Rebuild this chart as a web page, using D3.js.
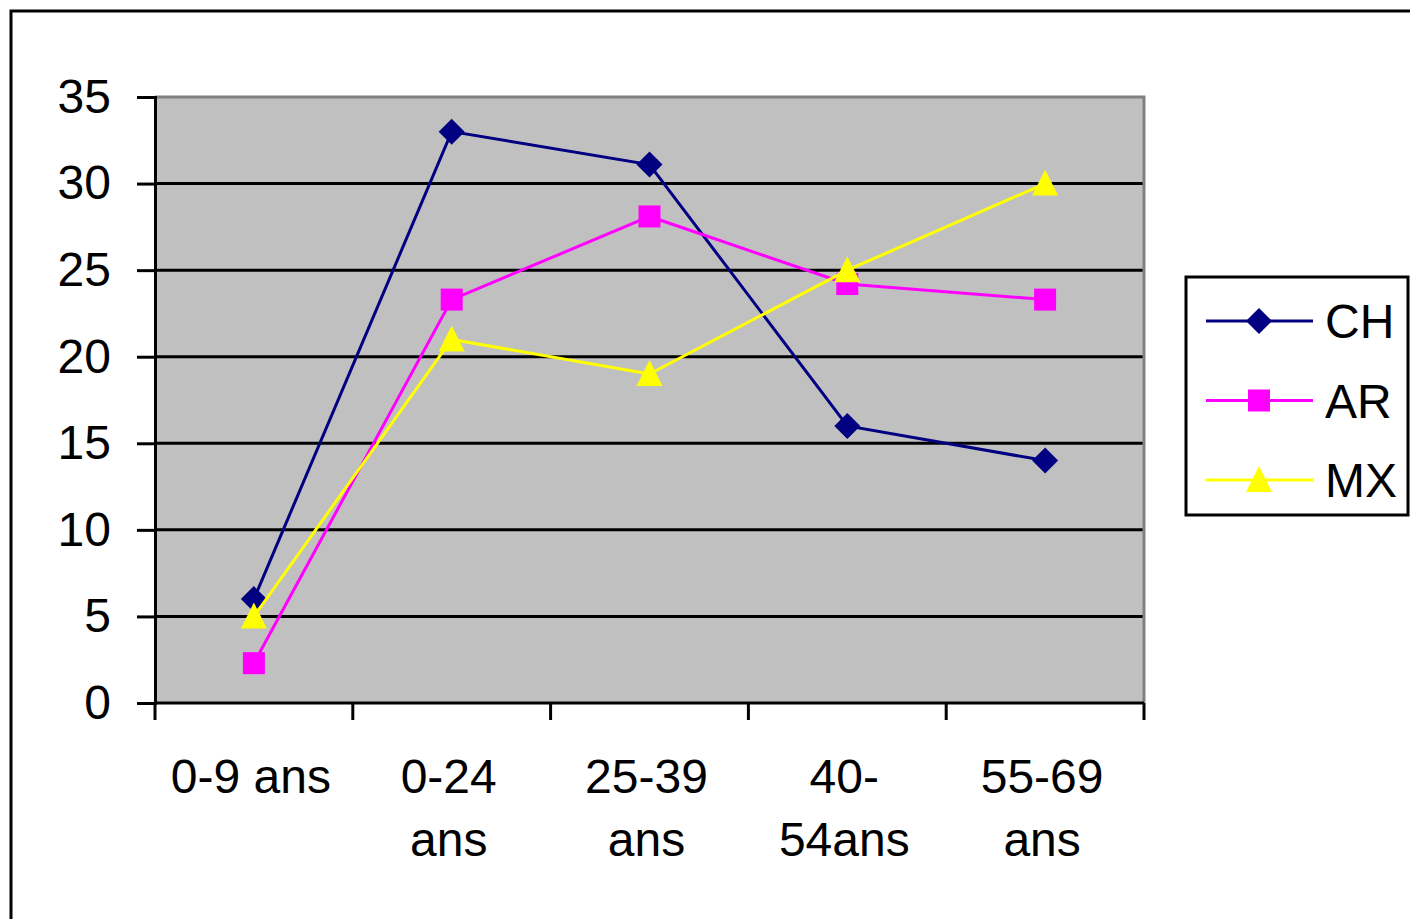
<!DOCTYPE html>
<html><head><meta charset="utf-8">
<script src="https://cdn.jsdelivr.net/npm/d3@7/dist/d3.min.js"></script>
<style>body{margin:0;background:#fff}svg{display:block}text{font-family:"Liberation Sans",Arial,sans-serif}</style>
</head><body>
<svg id="c" width="1410" height="919"></svg>
<script>
const categories = ["0-9 ans","0-24 ans","25-39 ans","40-54ans","55-69 ans"];
const categoryLines = [["0-9 ans"],["0-24","ans"],["25-39","ans"],["40-","54ans"],["55-69","ans"]];
const CH = [6, 33, 31.1, 16, 14];
const AR = [2.3, 23.3, 28.1, 24.2, 23.3];
const MX = [5, 21, 19, 25, 30];
const yTicks = [0,5,10,15,20,25,30,35];
const seriesNames = ["CH","AR","MX"];
const seriesColors = ["#000080","#FF00FF","#FFFF00"];
const seriesMarkers = ["diamond","square","triangle"];
const seriesData = [CH, AR, MX];

const svg = d3.select("#c");
svg.append("rect").attr("x",11).attr("y",11).attr("width",1420).attr("height",930)
  .attr("fill","none").attr("stroke","#000").attr("stroke-width",3);

const L=155, R=1144, T=97, B=703;
const x = d3.scaleBand().domain(categories).range([L,R]);
const y = d3.scaleLinear().domain([0,35]).range([B,T]);

svg.append("rect").attr("x",L).attr("y",T).attr("width",R-L).attr("height",B-T).attr("fill","#C0C0C0");
svg.append("g").selectAll("line").data(yTicks.filter(d=>d>0&&d<35)).join("line")
  .attr("x1",L).attr("x2",R).attr("y1",d=>y(d)).attr("y2",d=>y(d)).attr("stroke","#000").attr("stroke-width",3);
svg.append("path").attr("d",`M${L},${T}H${R}V${B}`).attr("fill","none").attr("stroke","#808080").attr("stroke-width",3);

const yAxis = svg.append("g").attr("transform",`translate(${L},0)`)
  .call(d3.axisLeft(y).tickValues(yTicks).tickSize(18).tickPadding(26).tickFormat(d3.format("d")));
yAxis.select(".domain").attr("stroke","#000").attr("stroke-width",3);
yAxis.selectAll(".tick line").attr("stroke","#000").attr("stroke-width",3);
yAxis.selectAll(".tick text").attr("font-size",48).attr("fill","#000").attr("font-family","Liberation Sans, Arial, sans-serif");

const xAxis = svg.append("g").attr("transform",`translate(0,${B})`)
  .call(d3.axisBottom(x).tickSize(0).tickFormat(""));
xAxis.select(".domain").attr("stroke","#000").attr("stroke-width",3).attr("d",`M${L},0H${R}`);
const bounds = categories.map(c=>x(c)).concat([R]);
svg.append("g").selectAll("line").data(bounds).join("line")
  .attr("x1",d=>d).attr("x2",d=>d).attr("y1",B).attr("y2",B+17).attr("stroke","#000").attr("stroke-width",3);
const lab = svg.append("g").selectAll("text").data(categories).join("text")
  .attr("x",d=>x(d)+x.bandwidth()/2).attr("y",793).attr("text-anchor","middle").attr("font-size",48).attr("fill","#000");
lab.each(function(d,i){
  const t=d3.select(this);
  categoryLines[i].forEach((ln,j)=>t.append("tspan").attr("x",x(d)+x.bandwidth()/2-3).attr("dy",j?63:0).text(ln));
});

function marker(g, type, color, cx, cy){
  if(type==="diamond"){
    g.append("path").attr("d",`M${cx},${cy-13}L${cx+13},${cy}L${cx},${cy+13}L${cx-13},${cy}Z`).attr("fill",color);
  } else if(type==="square"){
    g.append("rect").attr("x",cx-11).attr("y",cy-11).attr("width",22).attr("height",22).attr("fill",color);
  } else {
    g.append("path").attr("d",`M${cx},${cy-14}L${cx+13},${cy+12}L${cx-13},${cy+12}Z`).attr("fill",color);
  }
}

const cxOf = c => x(c)+x.bandwidth()/2;
const line = d3.line().x((d,i)=>cxOf(categories[i])).y(d=>y(d));
seriesData.forEach((data,s)=>{
  const g = svg.append("g");
  g.append("path").attr("d",line(data)).attr("fill","none").attr("stroke",seriesColors[s]).attr("stroke-width",3);
  data.forEach((v,i)=>marker(g, seriesMarkers[s], seriesColors[s], cxOf(categories[i]), y(v)));
});

const lg = svg.append("g");
lg.append("rect").attr("x",1186).attr("y",277).attr("width",222).attr("height",238).attr("fill","#fff").attr("stroke","#000").attr("stroke-width",3);
seriesNames.forEach((n,i)=>{
  const ly = 321 + i*79.5;
  lg.append("line").attr("x1",1206).attr("x2",1313).attr("y1",ly).attr("y2",ly).attr("stroke",seriesColors[i]).attr("stroke-width",3);
  marker(lg, seriesMarkers[i], seriesColors[i], 1259, ly);
  lg.append("text").attr("x",1325).attr("y",ly+17).attr("font-size",48).attr("fill","#000").text(n);
});
</script>
</body></html>
